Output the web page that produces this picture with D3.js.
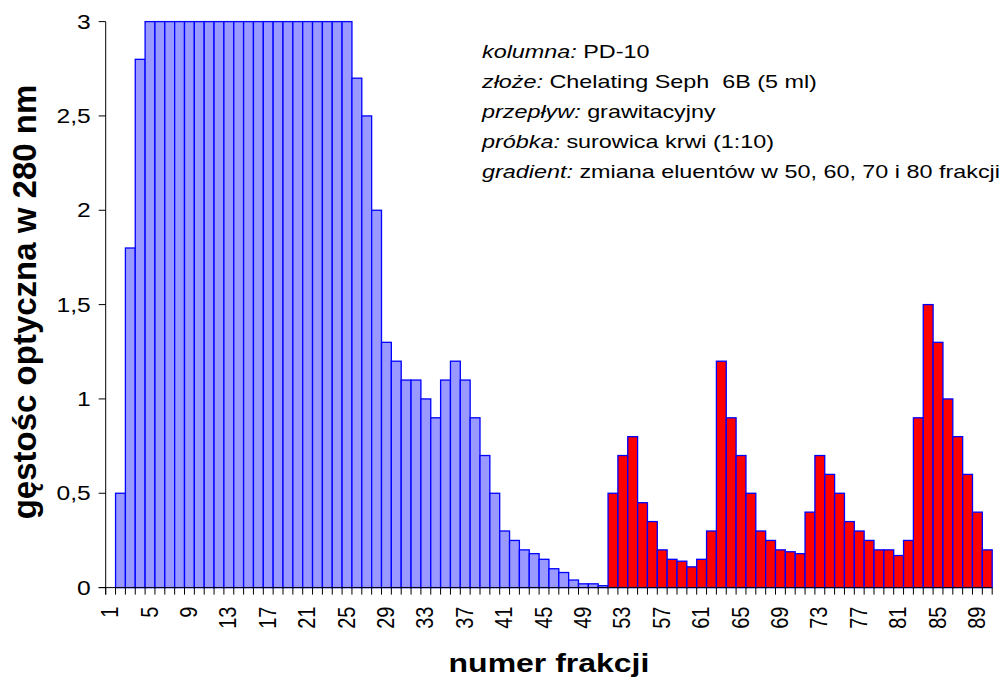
<!DOCTYPE html>
<html>
<head>
<meta charset="utf-8">
<script src="https://cdn.jsdelivr.net/npm/d3@7"></script>
<style>
  body { margin: 0; background: #fff; }
  text { font-family: "Liberation Sans", Arial, sans-serif; white-space: pre; }
</style>
</head>
<body>
<script>
var width = 1005;
var height = 679;
var stretch = 1.23; // the original chart is widened, text included

// fractions 1..90, fraction 1 has no reading
var fractions = d3.range(1, 91);
var blueValues = [null, 0.5, 1.8, 2.8, 3, 3, 3, 3, 3, 3,
                  3, 3, 3, 3, 3, 3, 3, 3, 3, 3,
                  3, 3, 3, 3, 3, 2.7, 2.5, 2.0, 1.3, 1.2,
                  1.1, 1.1, 1.0, 0.9, 1.1, 1.2, 1.1, 0.9, 0.7, 0.5,
                  0.3, 0.25, 0.2, 0.18, 0.15, 0.1, 0.08, 0.04, 0.02, 0.02,
                  0.01];
var redValues = [0.5, 0.7, 0.8, 0.45, 0.35, 0.2, 0.15, 0.14, 0.11, 0.15,
                 0.3, 1.2, 0.9, 0.7, 0.5, 0.3, 0.25, 0.2, 0.19, 0.18,
                 0.4, 0.7, 0.6, 0.5, 0.35, 0.3, 0.25, 0.2, 0.2, 0.17,
                 0.25, 0.9, 1.5, 1.3, 1.0, 0.8, 0.6, 0.4, 0.2];
var yTicks = [0, 0.5, 1, 1.5, 2, 2.5, 3];
var xTickLabels = d3.range(1, 91, 4);

var notes = [
  ["kolumna:", "PD-10"],
  ["złoże:", "Chelating Seph  6B (5 ml)"],
  ["przepływ:", "grawitacyjny"],
  ["próbka:", "surowica krwi (1:10)"],
  ["gradient:", "zmiana eluentów w 50, 60, 70 i 80 frakcji"]
];

var blueData = blueValues.map(function (v, i) { return {f: fractions[i], v: v}; })
                         .filter(function (d) { return d.v != null; });
var redData = redValues.map(function (v, i) { return {f: fractions[blueValues.length + i], v: v}; });

var plotL = 105.7, plotR = 992.2, plotT = 21.6, plotB = 587.6;

var x = d3.scaleBand().domain(fractions).range([plotL, plotR]).padding(0);
var y = d3.scaleLinear().domain([0, 3]).range([plotB, plotT]);

var svg = d3.select("body").append("svg")
            .attr("width", width)
            .attr("height", height);

// bars
function drawBars(data, fill) {
  svg.append("g")
     .selectAll("rect")
     .data(data)
     .enter().append("rect")
       .attr("x", function (d) { return x(d.f); })
       .attr("y", function (d) { return y(d.v); })
       .attr("width", x.bandwidth())
       .attr("height", function (d) { return y(0) - y(d.v); })
       .attr("fill", fill)
       .attr("stroke", "#0000ff")
       .attr("stroke-width", 1.3);
}
drawBars(blueData, "#9999ff");
drawBars(redData, "#ff0000");

// y axis
var yg = svg.append("g");
yg.append("line")
  .attr("x1", plotL).attr("x2", plotL)
  .attr("y1", plotT).attr("y2", plotB + 7)
  .attr("stroke", "#000");
yg.selectAll(".tick")
  .data(yTicks)
  .enter().append("line")
    .attr("x1", plotL - 7).attr("x2", plotL)
    .attr("y1", function (d) { return y(d); })
    .attr("y2", function (d) { return y(d); })
    .attr("stroke", "#000");
yg.selectAll("text")
  .data(yTicks)
  .enter().append("text")
    .attr("transform", function (d) {
      return "translate(" + (plotL - 15) + "," + (y(d) + 7) + ") scale(" + stretch + ",1)";
    })
    .attr("text-anchor", "end")
    .attr("font-size", 20)
    .text(function (d) { return String(d).replace(".", ","); });

// x axis: ticks on every band edge
var edges = fractions.map(function (f) { return x(f); }).concat([plotR]);
svg.append("g")
   .selectAll("line")
   .data(edges)
   .enter().append("line")
     .attr("x1", function (d) { return d; })
     .attr("x2", function (d) { return d; })
     .attr("y1", plotB)
     .attr("y2", plotB + 7)
     .attr("stroke", "#000");
svg.append("line")
   .attr("x1", plotL - 7).attr("x2", plotR)
   .attr("y1", plotB).attr("y2", plotB)
   .attr("stroke", "#000");

svg.append("g")
   .selectAll("text")
   .data(xTickLabels)
   .enter().append("text")
     .attr("transform", function (d) {
       return "translate(" + (x(d) + x.bandwidth() / 2 + 7.5) + "," + (plotB + 19) + ") scale(" + stretch + ",1) rotate(-90)";
     })
     .attr("text-anchor", "end")
     .attr("font-size", 20)
     .text(function (d) { return d; });

// axis titles
svg.append("text")
   .attr("transform", "translate(" + ((plotL + plotR) / 2) + ",672) scale(" + stretch + ",1)")
   .attr("text-anchor", "middle")
   .attr("font-size", 26)
   .attr("font-weight", "bold")
   .text("numer frakcji");

svg.append("text")
   .attr("transform", "translate(36,302) rotate(-90)")
   .attr("text-anchor", "middle")
   .attr("font-size", 33)
   .attr("font-weight", "bold")
   .text("gęstośc optyczna w 280 nm");

// annotation block
var noteG = svg.append("g").attr("transform", "translate(482,58) scale(" + stretch + ",1)");
notes.forEach(function (n, i) {
  var t = noteG.append("text")
               .attr("y", i * 30)
               .attr("font-size", 19);
  t.append("tspan").attr("font-style", "italic").text(n[0]);
  t.append("tspan").text("\u00a0" + n[1].replace(/ /g, "\u00a0"));
});
</script>
</body>
</html>
